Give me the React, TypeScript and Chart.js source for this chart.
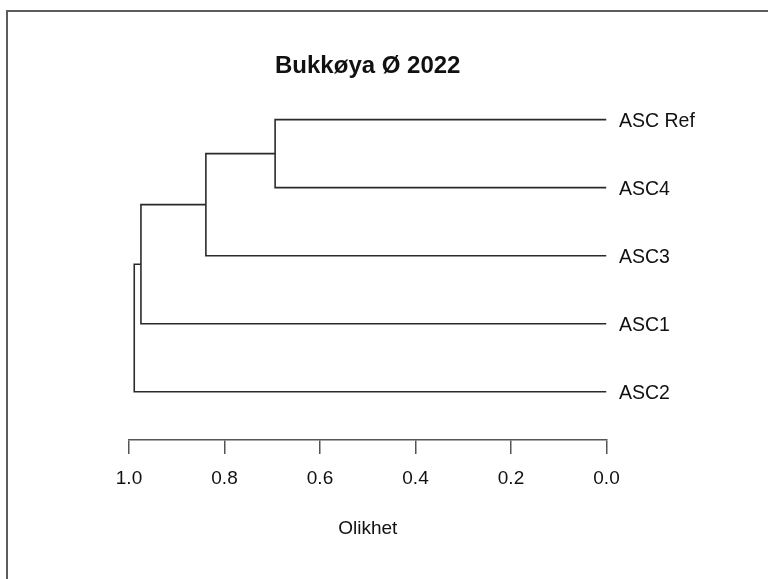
import React, { useEffect, useRef } from "react";
import { Chart, registerables } from "chart.js";

Chart.register(...registerables);

// Leaves in dendrogram order (top to bottom)
const leafLabels = ["ASC Ref", "ASC4", "ASC3", "ASC1", "ASC2"];
// Merge table (hclust style): negative = leaf number (1-based), positive = earlier merge
const mergeLeft = [-1, -3, -4, -5];
const mergeRight = [-2, 1, 2, 3];
const mergeHeights = [0.694, 0.839, 0.975, 0.989];
const xTickValues = [0, 0.2, 0.4, 0.6, 0.8, 1.0];
const titleText = "Bukkøya Ø 2022";
const xAxisTitle = "Olikhet";

const FONT = "'Liberation Sans', Arial, Helvetica, sans-serif";
const INK = "#111111";
const LINE = "#2a2a2a";

function buildDatasets() {
  const mergeY: number[] = [];
  const pos = (ref: number) =>
    ref < 0 ? { x: 0, y: -ref } : { x: mergeHeights[ref - 1], y: mergeY[ref - 1] };
  return mergeHeights.map((h, i) => {
    const a = pos(mergeLeft[i]);
    const b = pos(mergeRight[i]);
    mergeY[i] = (a.y + b.y) / 2;
    return {
      label: "merge " + (i + 1),
      data: [
        { x: a.x, y: a.y },
        { x: h, y: a.y },
        { x: h, y: b.y },
        { x: b.x, y: b.y },
      ],
      showLine: true,
      borderColor: LINE,
      borderWidth: 1.6,
      pointRadius: 0,
      tension: 0,
      fill: false,
    };
  });
}

export default function App() {
  const ref = useRef<HTMLCanvasElement | null>(null);

  useEffect(() => {
    if (!ref.current) return;
    Chart.defaults.font.family = FONT;
    const chart = new Chart(ref.current, {
      type: "scatter",
      data: { datasets: buildDatasets() as any },
      options: {
        animation: false,
        responsive: false,
        devicePixelRatio: 1,
        layout: { padding: { left: 129, right: 0, top: 40, bottom: 0 } },
        plugins: {
          legend: { display: false },
          tooltip: { enabled: false },
          title: {
            display: true,
            text: titleText,
            fullSize: false,
            color: INK,
            font: { family: FONT, size: 24, weight: "bold" },
            padding: { top: 12, bottom: 0 },
          },
        },
        scales: {
          x: {
            type: "linear",
            position: "bottom",
            min: 0,
            max: 1,
            reverse: true,
            afterFit: (s: any) => {
              s.height = 139;
            },
            afterBuildTicks: (s: any) => {
              s.ticks = xTickValues.map((v) => ({ value: v }));
            },
            grid: {
              drawOnChartArea: false,
              drawTicks: true,
              tickLength: 14,
              color: "#555555",
              lineWidth: 1.5,
            },
            border: { display: true, color: "#555555", width: 1.5 },
            ticks: {
              padding: 13.5,
              color: INK,
              autoSkip: false,
              maxRotation: 0,
              font: { family: FONT, size: 19 },
              callback: (v: any) => Number(v).toFixed(1),
            },
            title: {
              display: true,
              text: xAxisTitle,
              color: INK,
              font: { family: FONT, size: 19 },
              padding: { top: 0, bottom: 39 },
            },
          },
          y: {
            type: "linear",
            position: "right",
            reverse: true,
            min: 0.43,
            max: 5.708,
            afterFit: (s: any) => {
              s.width = 161.5;
            },
            afterBuildTicks: (s: any) => {
              s.ticks = leafLabels.map((_, i) => ({ value: i + 1 }));
            },
            grid: { display: false, drawTicks: false },
            border: { display: false },
            ticks: {
              padding: 12.5,
              labelOffset: 2,
              color: INK,
              autoSkip: false,
              font: { family: FONT, size: 19.5 },
              callback: (v: any) => leafLabels[Math.round(Number(v)) - 1] ?? "",
            },
          },
        },
      },
    });
    return () => chart.destroy();
  }, []);

  return (
    <div
      style={{
        position: "fixed",
        left: 0,
        top: 0,
        width: 768,
        height: 579,
        overflow: "hidden",
        background: "#ffffff",
      }}
    >
      <div
        style={{
          position: "absolute",
          left: 6,
          top: 10,
          width: 900,
          height: 900,
          borderLeft: "2px solid #5c5c5c",
          borderTop: "2px solid #5c5c5c",
        }}
      />
      <canvas
        ref={ref}
        width={768}
        height={579}
        style={{ position: "absolute", left: 0, top: 0, width: 768, height: 579 }}
      />
    </div>
  );
}
